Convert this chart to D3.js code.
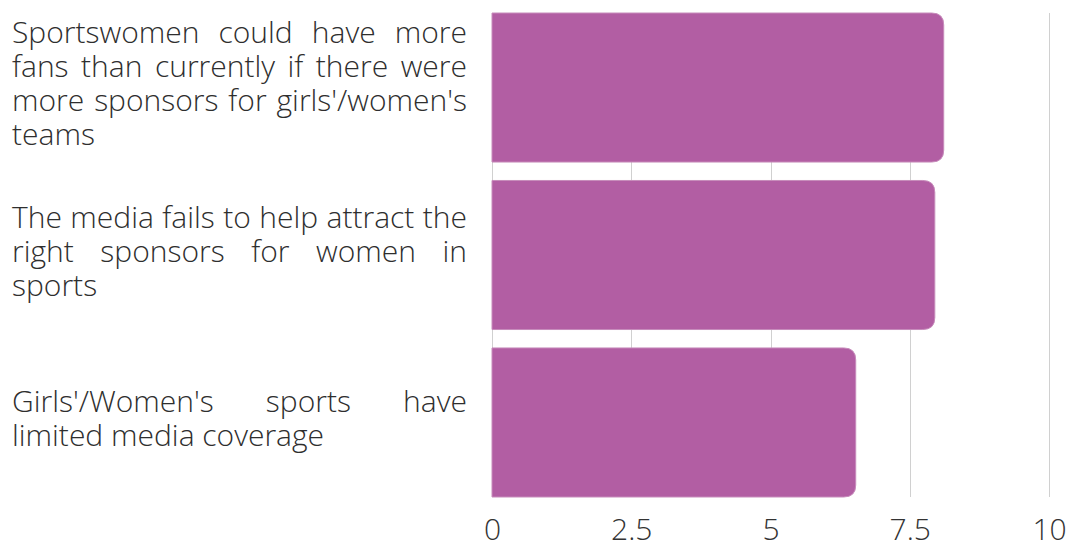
<!DOCTYPE html>
<html>
<head>
<meta charset="utf-8">
<script src="https://cdn.jsdelivr.net/npm/d3@7"></script>
<style>
  html, body { margin: 0; padding: 0; background: #ffffff; }
  svg { display: block; }
  text { font-family: "Open Sans", sans-serif; font-weight: 300; }
</style>
</head>
<body>
<svg id="chart" width="1068" height="545"></svg>
<script>
// Survey statements and their mean agreement scores
const categories = [
  "Sportswomen could have more fans than currently if there were more sponsors for girls'/women's teams",
  "The media fails to help attract the right sponsors for women in sports",
  "Girls'/Women's sports have limited media coverage"
];
const values = [8.11, 7.95, 6.53];
const tickValues = [0, 2.5, 5, 7.5, 10];

const W = 1068, H = 545;
const plot = { left: 492, right: 1049, top: 13, bottom: 497 };
const labelBox = { left: 12, right: 467 };
const fontSize = 30, lineHeight = 34;
const barColor = "#b25ea3";

const svg = d3.select("#chart");

const x = d3.scaleLinear().domain([0, 10]).range([plot.left, plot.right]);
const y = d3.scaleBand().domain(categories).range([plot.top, plot.bottom])
  .paddingInner(0.11).paddingOuter(0);

// vertical gridlines
svg.append("g").selectAll("line").data(tickValues).join("line")
  .attr("x1", d => Math.round(x(d)) + 0.5).attr("x2", d => Math.round(x(d)) + 0.5)
  .attr("y1", plot.top).attr("y2", plot.bottom)
  .attr("stroke", "#d0d0d0").attr("stroke-width", 1);

// bars with rounded right end
function barPath(x0, x1, y0, h, r) {
  r = Math.min(r, (x1 - x0), h / 2);
  return `M${x0},${y0}H${x1 - r}Q${x1},${y0} ${x1},${y0 + r}V${y0 + h - r}Q${x1},${y0 + h} ${x1 - r},${y0 + h}H${x0}Z`;
}
svg.append("g").selectAll("path").data(categories).join("path")
  .attr("d", (c, i) => barPath(x(0), x(values[i]), y(c), y.bandwidth(), 12))
  .attr("fill", barColor)
  .attr("stroke", "#c78cbb").attr("stroke-width", 1);

// x axis tick labels
const axis = d3.axisBottom(x).tickValues(tickValues).tickSize(0).tickPadding(22)
  .tickFormat(d => String(d));
const gx = svg.append("g").attr("transform", `translate(0,${plot.bottom})`).call(axis);
gx.select(".domain").remove();
gx.selectAll("text")
  .attr("font-family", "'Open Sans', sans-serif")
  .attr("font-weight", 300)
  .attr("font-size", fontSize)
  .attr("fill", "#333333");

// justified, wrapped category labels (one text per line, spread with word-spacing)
const measure = svg.append("text").attr("font-size", fontSize).attr("visibility", "hidden");
function textWidth(s) { measure.text(s); return measure.node().getComputedTextLength(); }
const boxW = labelBox.right - labelBox.left;

const labels = svg.append("g");
categories.forEach(c => {
  const words = c.split(" ");
  const lines = [];
  let cur = [];
  words.forEach(w => {
    const trial = cur.concat([w]);
    if (cur.length && textWidth(trial.join(" ")) > boxW) {
      lines.push(cur); cur = [w];
    } else cur = trial;
  });
  if (cur.length) lines.push(cur);

  const n = lines.length;
  const center = y(c) + y.bandwidth() / 2;
  const top = center - n * lineHeight / 2 - 1;
  lines.forEach((line, li) => {
    const s = line.join(" ");
    const last = li === n - 1;
    const extra = (!last && line.length > 1) ? (boxW - textWidth(s)) / (line.length - 1) : 0;
    labels.append("text")
      .attr("x", labelBox.left)
      .attr("y", top + li * lineHeight + 24.5)
      .attr("font-size", fontSize)
      .attr("fill", "#2e2e2e")
      .attr("word-spacing", extra.toFixed(2))
      .text(s);
  });
});
measure.remove();
</script>
</body>
</html>
